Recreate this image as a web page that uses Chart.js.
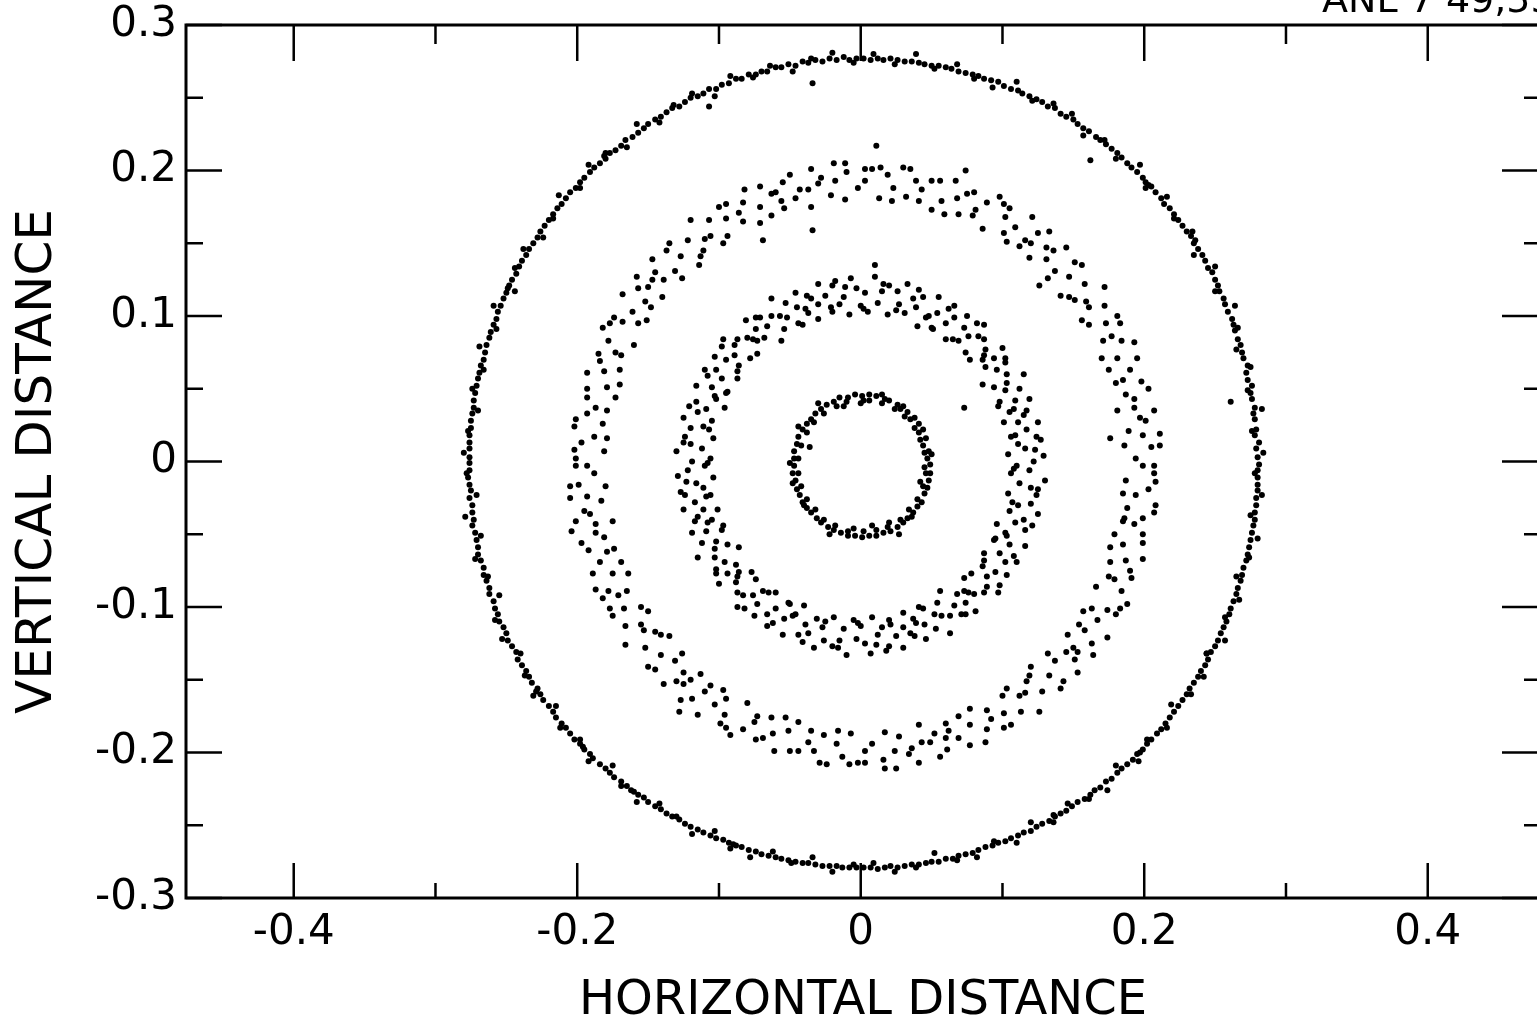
<!DOCTYPE html>
<html>
<head>
<meta charset="utf-8">
<title>Ring scatter</title>
<script src="https://cdn.jsdelivr.net/npm/chart.js@4.4.1/dist/chart.umd.min.js"></script>
<style>
  html, body { margin: 0; padding: 0; overflow: hidden; background: #fff; }
  #wrap { position: absolute; left: 0; top: 0; width: 1560px; height: 1026px; }
</style>
</head>
<body>
<div id="wrap"><canvas id="chart" width="1560" height="1026"></canvas></div>
<script>
// Axis ticks (values in distance units) and their printed labels
const xTickValues = [-0.4, -0.3, -0.2, -0.1, 0, 0.1, 0.2, 0.3, 0.4];
const xTickLabels = ['-0.4', '', '-0.2', '', '0', '', '0.2', '', '0.4'];
const yTickValues = [-0.3, -0.2, -0.1, 0, 0.1, 0.2, 0.3];
const yTickLabels = ['-0.3', '-0.2', '-0.1', '0', '0.1', '0.2', '0.3'];
const yMinorTicks = [-0.25, -0.15, -0.05, 0.05, 0.15, 0.25];
const plateLabel = 'ANL 7 49,55';

// Particle positions, [x, y] in thousandths of a unit, one list per ring
const ringOuter = [
  [281,-2],[280,3],[279,9],[281,13],[278,18],[279,22],[278,29],[277,33],[278,37],[276,43],[275,47],[276,52],[273,56],[272,61],[273,66],[270,71],[269,75],[268,80],[266,84],[264,90],
  [263,94],[262,98],[259,103],[257,108],[256,112],[253,117],[252,121],[250,125],[248,130],[245,133],[243,138],[241,142],[238,146],[235,150],[233,155],[230,158],[227,162],[224,166],[221,170],[218,174],
  [214,177],[212,181],[208,185],[205,189],[201,192],[199,195],[195,199],[191,202],[188,205],[184,209],[181,212],[177,215],[173,218],[169,221],[166,223],[161,227],[157,229],[153,232],[150,235],[145,237],
  [141,239],[137,243],[132,244],[128,247],[124,249],[119,251],[114,253],[111,255],[106,256],[101,258],[97,261],[92,262],[87,263],[83,265],[79,266],[74,267],[69,268],[64,270],[60,271],[55,272],
  [50,272],[45,273],[41,274],[36,275],[31,275],[26,276],[21,277],[16,276],[12,277],[7,276],[162,207],[261,41],[236,152],[203,190],
  [284,6],[276,21],[283,36],[273,49],[275,65],[265,77],[266,92],[264,107],[250,117],[250,134],[235,142],[234,158],[221,167],[216,182],[201,188],[197,204],[180,208],[172,221],[157,224],[149,239],
  [136,246],[121,248],[110,261],[93,257],[80,263],[68,273],[52,270],[39,280],[24,273],[9,280],
  [2,277],[-3,277],[-8,276],[-12,278],[-17,276],[-22,277],[-27,275],[-32,276],[-37,274],[-41,275],[-46,272],[-51,273],[-56,271],[-60,271],[-66,268],[-70,268],[-74,266],[-79,266],[-84,263],[-88,263],
  [-93,260],[-98,259],[-102,256],[-107,256],[-111,253],[-115,251],[-120,250],[-124,247],[-128,244],[-133,243],[-137,240],[-141,237],[-145,235],[-150,232],[-153,229],[-157,226],[-161,223],[-166,221],[-169,217],[-173,214],
  [-177,212],[-180,208],[-184,205],[-188,202],[-191,199],[-195,195],[-198,192],[-201,188],[-205,185],[-208,181],[-211,177],[-214,174],[-217,170],[-220,166],[-223,162],[-226,158],[-228,154],[-231,150],[-234,146],[-236,142],
  [-239,138],[-241,134],[-243,129],[-246,125],[-248,121],[-250,116],[-252,112],[-254,107],[-256,103],[-257,98],[-259,94],[-261,89],[-262,85],[-264,80],[-265,75],[-266,70],[-268,66],[-269,61],[-270,57],[-271,52],
  [-272,47],[-273,42],[-273,37],[-274,33],[-275,28],[-275,23],[-276,18],[-276,13],[-276,9],[-276,3],[-34,260],[-107,244],[-181,210],[-249,119],
  [-5,274],[-20,281],[-35,277],[-48,268],[-64,272],[-76,264],[-92,265],[-103,251],[-119,253],[-132,245],[-142,233],[-158,232],[-165,216],[-180,212],[-192,204],[-198,188],[-213,183],[-217,167],[-224,154],[-238,146],
  [-244,133],[-244,117],[-259,107],[-257,91],[-269,79],[-266,63],[-274,50],[-270,35],[-277,21],[-280,6],
  [-276,-1],[-276,-6],[-277,-11],[-276,-16],[-275,-20],[-276,-25],[-274,-30],[-274,-35],[-273,-40],[-274,-44],[-272,-49],[-271,-54],[-270,-59],[-270,-64],[-268,-68],[-266,-73],[-266,-78],[-264,-82],[-262,-87],[-262,-91],
  [-259,-96],[-258,-101],[-256,-105],[-255,-110],[-252,-114],[-250,-118],[-249,-123],[-246,-127],[-243,-131],[-242,-136],[-239,-140],[-236,-144],[-234,-148],[-232,-152],[-228,-156],[-226,-160],[-224,-164],[-220,-168],[-217,-172],[-215,-176],
  [-211,-180],[-208,-183],[-205,-187],[-202,-191],[-198,-194],[-195,-198],[-191,-201],[-189,-204],[-184,-208],[-180,-211],[-177,-214],[-174,-217],[-169,-220],[-165,-223],[-162,-226],[-157,-229],[-153,-231],[-150,-234],[-145,-237],[-141,-239],
  [-137,-242],[-133,-244],[-128,-246],[-124,-249],[-120,-251],[-115,-253],[-111,-255],[-106,-257],[-102,-259],[-97,-260],[-93,-262],[-88,-264],[-84,-265],[-79,-267],[-74,-268],[-70,-270],[-65,-271],[-60,-272],[-56,-273],[-51,-274],
  [-46,-275],[-41,-276],[-37,-276],[-32,-277],[-27,-278],[-22,-278],[-17,-278],[-13,-279],[-8,-279],[-3,-279],[-229,-158],[-196,-196],[-160,-227],[-90,-263],
  [-278,-8],[-271,-23],[-279,-38],[-268,-51],[-272,-67],[-263,-79],[-255,-92],[-258,-109],[-253,-122],[-240,-132],[-237,-147],[-231,-161],[-215,-168],[-212,-183],[-198,-191],[-192,-206],[-175,-209],[-169,-223],[-158,-234],[-142,-235],
  [-130,-244],[-119,-256],[-103,-254],[-92,-266],[-78,-272],[-62,-268],[-49,-276],[-34,-272],[-20,-282],[-5,-277],
  [2,-279],[7,-279],[12,-280],[17,-279],[21,-278],[26,-279],[31,-278],[36,-277],[41,-277],[46,-276],[50,-275],[55,-275],[60,-273],[65,-273],[69,-271],[74,-270],[79,-269],[83,-267],[88,-265],[93,-264],
  [97,-262],[102,-261],[106,-259],[111,-257],[115,-255],[120,-254],[124,-251],[128,-249],[133,-247],[137,-244],[141,-242],[145,-240],[149,-237],[153,-234],[158,-232],[162,-229],[165,-226],[169,-224],[173,-220],[177,-218],
  [181,-214],[184,-211],[188,-208],[192,-205],[195,-201],[199,-198],[202,-194],[205,-191],[209,-187],[212,-184],[215,-180],[218,-176],[221,-172],[224,-168],[227,-164],[230,-160],[232,-156],[235,-152],[238,-148],[240,-144],
  [243,-140],[245,-136],[247,-131],[250,-127],[252,-123],[254,-118],[256,-114],[258,-110],[260,-105],[261,-101],[263,-96],[265,-91],[266,-87],[268,-82],[269,-78],[270,-73],[272,-68],[273,-64],[274,-59],[275,-54],
  [276,-49],[277,-44],[278,-40],[278,-35],[279,-30],[279,-25],[280,-20],[280,-16],[280,-11],[280,-6],[244,-132],[197,-200],[136,-243],
  [9,-276],[24,-282],[39,-279],[52,-269],[68,-274],[82,-272],[94,-261],[110,-262],[120,-248],[136,-248],[146,-235],[161,-232],[174,-226],[180,-209],[196,-206],[202,-191],[216,-183],[219,-167],[233,-160],[242,-148],
  [244,-132],[257,-123],[257,-107],[267,-95],[265,-79],[274,-66],[280,-53],[275,-37],[283,-23],[278,-8]
];

const ringSecond = [
  [207,-3],[199,-3],[194,2],[211,11],[205,10],[186,11],[199,18],[211,19],[189,21],[201,28],[197,30],[207,35],[181,35],[193,37],[193,43],[187,46],[203,50],[198,55],[180,54],[185,56],
  [190,63],[195,71],[175,63],[181,71],[170,71],[193,82],[184,83],[171,83],[177,86],[183,95],[173,95],[181,100],[161,94],[172,107],[156,97],[161,106],[172,120],[159,110],[151,111],[158,122],
  [147,113],[141,114],[147,127],[156,135],[151,137],[137,131],[132,126],[145,147],[131,139],[136,145],[131,147],[119,140],[133,158],[125,157],[112,148],[116,152],[121,168],[109,161],[103,151],[101,157],
  [102,168],[105,174],[101,177],[86,160],[98,182],[89,178],[81,173],[79,169],[80,185],[69,170],[75,184],[68,181],[67,193],[59,170],[57,179],[50,173],[56,193],[50,193],[43,187],[41,179],
  [39,193],[32,182],[35,201],[30,202],[23,188],[22,179],[19,197],[13,181],[14,202],[8,201],[11,217],[74,200],[126,121],[120,150],[176,16],
  [3,201],[3,193],[-2,188],[-11,205],[-10,199],[-11,180],[-18,193],[-19,205],[-21,183],[-28,195],[-30,191],[-35,201],[-35,175],[-37,187],[-43,187],[-46,181],[-50,197],[-55,192],[-54,174],[-56,179],
  [-63,184],[-71,189],[-63,169],[-71,175],[-71,164],[-82,187],[-83,178],[-83,165],[-86,171],[-95,177],[-95,167],[-100,175],[-94,155],[-107,166],[-97,150],[-106,155],[-120,166],[-110,153],[-111,145],[-122,152],
  [-113,141],[-114,135],[-127,141],[-135,150],[-137,145],[-131,131],[-126,126],[-147,139],[-139,125],[-145,130],[-147,125],[-140,113],[-158,127],[-157,119],[-148,106],[-152,110],[-168,115],[-161,103],[-151,97],[-157,95],
  [-168,96],[-174,99],[-177,95],[-160,80],[-182,92],[-178,83],[-173,75],[-169,73],[-185,74],[-170,63],[-184,69],[-181,62],[-193,61],[-170,53],[-179,51],[-173,44],[-193,50],[-193,44],[-187,37],[-179,35],
  [-193,33],[-182,26],[-201,29],[-202,24],[-188,17],[-179,16],[-197,13],[-181,7],[-202,8],[-201,2],[-60,185],[-150,120],
  [-201,-3],[-193,-3],[-188,-8],[-205,-17],[-199,-16],[-180,-17],[-193,-24],[-205,-25],[-183,-27],[-195,-34],[-191,-36],[-201,-41],[-175,-41],[-187,-43],[-187,-49],[-181,-52],[-197,-56],[-192,-61],[-174,-60],[-179,-62],
  [-184,-69],[-189,-77],[-169,-69],[-175,-77],[-164,-77],[-187,-88],[-178,-89],[-165,-89],[-171,-92],[-177,-101],[-167,-101],[-175,-106],[-155,-100],[-166,-113],[-150,-103],[-155,-112],[-166,-126],[-153,-116],[-145,-117],[-152,-128],
  [-141,-119],[-135,-120],[-141,-133],[-150,-141],[-145,-143],[-131,-137],[-126,-132],[-139,-153],[-125,-145],[-130,-151],[-125,-153],[-113,-146],[-127,-164],[-119,-163],[-106,-154],[-110,-158],[-115,-174],[-103,-167],[-97,-157],[-95,-163],
  [-96,-174],[-99,-180],[-95,-183],[-80,-166],[-92,-188],[-83,-184],[-75,-179],[-73,-175],[-74,-191],[-63,-176],[-69,-190],[-62,-187],[-61,-199],[-53,-176],[-51,-185],[-44,-179],[-50,-199],[-44,-199],[-37,-193],[-35,-185],
  [-33,-199],[-26,-188],[-29,-207],[-24,-208],[-17,-194],[-16,-185],[-13,-203],[-7,-187],[-8,-208],[-2,-207],[-128,-172],[-204,-48],[-182,-94],[-120,-150],
  [3,-207],[3,-199],[8,-194],[17,-211],[16,-205],[17,-186],[24,-199],[25,-211],[27,-189],[34,-201],[36,-197],[41,-207],[41,-181],[43,-193],[49,-193],[52,-187],[56,-203],[61,-198],[60,-180],[62,-185],
  [69,-190],[77,-195],[69,-175],[77,-181],[77,-170],[88,-193],[89,-184],[89,-171],[92,-177],[101,-183],[101,-173],[106,-181],[100,-161],[113,-172],[103,-156],[112,-161],[126,-172],[116,-159],[117,-151],[128,-158],
  [119,-147],[120,-141],[133,-147],[141,-156],[143,-151],[137,-137],[132,-132],[153,-145],[145,-131],[151,-136],[153,-131],[146,-119],[164,-133],[163,-125],[154,-112],[158,-116],[174,-121],[167,-109],[157,-103],[163,-101],
  [174,-102],[180,-105],[183,-101],[166,-86],[188,-98],[184,-89],[179,-81],[175,-79],[191,-80],[176,-69],[190,-75],[187,-68],[199,-67],[176,-59],[185,-57],[179,-50],[199,-56],[199,-50],[193,-43],[185,-41],
  [199,-39],[188,-32],[207,-35],[208,-30],[194,-23],[185,-22],[203,-19],[187,-13],[208,-14],[207,-8],[186,-39],[150,-128],[60,-190]
];

const ringThird = [
  [110,-3],[122,0],[129,4],[104,5],[116,9],[111,12],[124,17],[106,17],[117,22],[125,27],[111,27],[101,27],[117,35],[105,34],[119,43],[109,42],[98,41],[112,50],[102,49],[115,60],
  [94,51],[103,60],[86,53],[96,63],[102,71],[88,65],[100,78],[86,70],[88,77],[77,70],[87,84],[74,75],[87,94],[76,86],[69,83],[73,92],[75,100],[60,84],[66,99],[60,95],
  [62,105],[51,91],[54,102],[55,113],[46,99],[40,93],[44,113],[39,106],[37,112],[31,102],[33,122],[27,108],[26,117],[19,101],[20,121],[16,122],[12,109],[10,127],[5,103],[3,116],
  [123,8],[109,18],[115,32],[97,38],[103,54],[102,68],[87,73],[83,86],[65,84],[66,107],[48,100],[41,118],[25,104],[15,117],[2,105],[94,71],[108,36],[50,92],[127,15],[82,95],
  [0,107],[-3,119],[-7,126],[-8,101],[-12,113],[-15,108],[-20,121],[-20,103],[-25,114],[-30,122],[-30,108],[-30,98],[-38,114],[-37,102],[-46,116],[-45,106],[-44,95],[-53,109],[-52,99],[-63,112],
  [-54,91],[-63,100],[-56,83],[-66,93],[-74,99],[-68,85],[-81,97],[-73,83],[-80,85],[-73,74],[-87,84],[-78,71],[-97,84],[-89,73],[-86,66],[-95,70],[-103,72],[-87,57],[-102,63],[-98,57],
  [-108,59],[-94,48],[-105,51],[-116,52],[-102,43],[-96,37],[-116,41],[-109,36],[-115,34],[-105,28],[-125,30],[-111,24],[-120,23],[-104,16],[-124,17],[-125,13],[-112,9],[-130,7],[-106,2],[-119,0],
  [-11,120],[-21,106],[-35,112],[-41,94],[-57,100],[-71,99],[-76,84],[-89,80],[-87,62],[-110,63],[-103,45],[-121,38],[-107,22],[-120,12],[-108,-1],[-74,91],[-39,105],[-95,47],[-18,124],[-98,79],
  [-110,-3],[-122,-6],[-129,-10],[-104,-11],[-116,-15],[-111,-18],[-124,-23],[-106,-23],[-117,-28],[-125,-33],[-111,-33],[-101,-33],[-117,-41],[-105,-40],[-119,-49],[-109,-48],[-98,-47],[-112,-56],[-102,-55],[-115,-66],
  [-94,-57],[-103,-66],[-86,-59],[-96,-69],[-102,-77],[-88,-71],[-100,-84],[-86,-76],[-88,-83],[-77,-76],[-87,-90],[-74,-81],[-87,-100],[-76,-92],[-69,-89],[-73,-98],[-75,-106],[-60,-90],[-66,-105],[-60,-101],
  [-62,-111],[-51,-97],[-54,-108],[-55,-119],[-46,-105],[-40,-99],[-44,-119],[-39,-112],[-37,-118],[-31,-108],[-33,-128],[-27,-114],[-26,-123],[-19,-107],[-20,-127],[-16,-128],[-12,-115],[-10,-133],[-5,-109],[-3,-122],
  [-123,-14],[-109,-24],[-115,-38],[-97,-44],[-103,-60],[-102,-74],[-87,-79],[-83,-92],[-65,-90],[-66,-113],[-48,-106],[-41,-124],[-25,-110],[-15,-123],[-2,-111],[-94,-77],[-108,-42],[-50,-98],[-127,-21],[-82,-101],
  [0,-113],[3,-125],[7,-132],[8,-107],[12,-119],[15,-114],[20,-127],[20,-109],[25,-120],[30,-128],[30,-114],[30,-104],[38,-120],[37,-108],[46,-122],[45,-112],[44,-101],[53,-115],[52,-105],[63,-118],
  [54,-97],[63,-106],[56,-89],[66,-99],[74,-105],[68,-91],[81,-103],[73,-89],[80,-91],[73,-80],[87,-90],[78,-77],[97,-90],[89,-79],[86,-72],[95,-76],[103,-78],[87,-63],[102,-69],[98,-63],
  [108,-65],[94,-54],[105,-57],[116,-58],[102,-49],[96,-43],[116,-47],[109,-42],[115,-40],[105,-34],[125,-36],[111,-30],[120,-29],[104,-22],[124,-23],[125,-19],[112,-15],[130,-13],[106,-8],[119,-6],
  [11,-126],[21,-112],[35,-118],[41,-100],[57,-106],[71,-105],[76,-90],[89,-86],[87,-68],[110,-69],[103,-51],[121,-44],[107,-28],[120,-18],[108,-5],[74,-97],[39,-111],[95,-53],[18,-130],[98,-85],
  [10,135],[-34,159],[-69,152],[73,37]
];

const ringInner = [
  [49,-2],[45,-4],[47,2],[48,7],[45,6],[44,11],[46,16],[42,15],[41,20],[41,26],[38,23],[35,29],[33,34],[31,31],[28,36],[26,39],[24,36],[20,42],[17,43],[15,40],
  [11,45],[6,46],[6,42],[38,30],[44,22],[50,5],[30,38],[15,46],
  [1,45],[2,42],[-4,46],[-9,44],[-10,41],[-15,44],[-19,41],[-17,38],[-24,39],[-28,36],[-26,33],[-32,33],[-35,29],[-33,27],[-38,26],[-41,22],[-38,20],[-44,17],[-45,12],[-42,11],[-47,7],[-47,2],
  [-44,2],[-30,40],[-12,38],[-36,10],[-44,24],[0,40],
  [-47,-3],[-48,-8],[-44,-8],[-46,-13],[-45,-19],[-42,-17],[-43,-23],[-41,-28],[-38,-26],[-38,-32],[-35,-35],[-32,-33],[-31,-39],[-28,-42],[-26,-40],[-23,-45],[-19,-47],[-18,-44],[-14,-49],[-9,-51],
  [-9,-48],[-4,-51],[-48,-15],[-40,-30],[-50,-1],[-22,-50],[-5,-46],
  [1,-52],[2,-48],[6,-51],[11,-51],[11,-47],[16,-49],[21,-48],[19,-45],[26,-45],[30,-42],[28,-40],[33,-39],[37,-35],[34,-33],[40,-31],[43,-28],[40,-26],[45,-22],[47,-18],[44,-17],
  [48,-13],[49,-8],[46,-8],[20,-42],[8,-44],[36,-38],[42,-14],[27,-50]
];

const toPoints = list => list.map(([x, y]) => ({ x: x / 1000, y: y / 1000 }));

const FONT = "'DejaVu Sans', 'Liberation Sans', sans-serif";

// Closed frame with inward tick marks on all four sides, plus the plate number
const frameTicks = {
  id: 'frameTicks',
  afterDraw(chart) {
    const { ctx, chartArea: a, scales } = chart;
    const xs = scales.x, ys = scales.y;
    ctx.save();
    ctx.strokeStyle = '#000';
    ctx.lineCap = 'butt';
    ctx.lineWidth = 3;
    ctx.strokeRect(a.left, a.top, a.right - a.left, a.bottom - a.top);
    ctx.lineWidth = 2.5;
    ctx.beginPath();
    xTickValues.forEach((v, i) => {
      const px = xs.getPixelForValue(v);
      const major = xTickLabels[i] !== '';
      ctx.moveTo(px, a.bottom);
      ctx.lineTo(px, a.bottom - (major ? 35 : 15));
      ctx.moveTo(px, a.top);
      ctx.lineTo(px, a.top + (major ? 36 : 19));
    });
    yTickValues.forEach(v => {
      const py = ys.getPixelForValue(v);
      ctx.moveTo(a.left, py);
      ctx.lineTo(a.left + 36, py);
      ctx.moveTo(a.right, py);
      ctx.lineTo(a.right - 38, py);
    });
    yMinorTicks.forEach(v => {
      const py = ys.getPixelForValue(v);
      ctx.moveTo(a.left, py);
      ctx.lineTo(a.left + 17, py);
      ctx.moveTo(a.right, py);
      ctx.lineTo(a.right - 16, py);
    });
    ctx.stroke();
    ctx.fillStyle = '#000';
    ctx.font = '38px ' + FONT;
    ctx.textAlign = 'left';
    ctx.textBaseline = 'alphabetic';
    ctx.fillText(plateLabel, 1322, 12);
    ctx.restore();
  }
};

const dotStyle = {
  showLine: false,
  pointRadius: 3,
  pointHoverRadius: 3,
  pointBackgroundColor: '#000',
  pointBorderWidth: 0,
  backgroundColor: '#000',
  borderColor: '#000'
};

new Chart(document.getElementById('chart'), {
  type: 'scatter',
  data: {
    datasets: [
      { label: 'outer', data: toPoints(ringOuter), ...dotStyle },
      { label: 'second', data: toPoints(ringSecond), ...dotStyle },
      { label: 'third', data: toPoints(ringThird), ...dotStyle },
      { label: 'inner', data: toPoints(ringInner), ...dotStyle }
    ]
  },
  options: {
    responsive: false,
    devicePixelRatio: 1,
    animation: false,
    events: [],
    layout: { padding: { top: 25, right: 20, left: 0, bottom: 0 } },
    plugins: { legend: { display: false }, tooltip: { enabled: false } },
    scales: {
      x: {
        type: 'linear',
        position: 'bottom',
        min: -0.476,
        max: 0.4792,
        afterBuildTicks: s => { s.ticks = xTickValues.map(v => ({ value: v })); },
        afterFit: s => { s.height = 128; s.paddingLeft = 0; s.paddingRight = 0; },
        ticks: {
          autoSkip: false,
          maxRotation: 0,
          padding: 10,
          color: '#000',
          font: { family: FONT, size: 42 },
          callback: (v, i) => xTickLabels[i]
        },
        grid: { display: false, drawTicks: false },
        border: { display: false },
        title: {
          display: true,
          text: 'HORIZONTAL DISTANCE',
          color: '#000',
          font: { family: FONT, size: 48, lineHeight: 1 },
          padding: { top: 0, bottom: 0 }
        }
      },
      y: {
        type: 'linear',
        position: 'left',
        min: -0.3,
        max: 0.3,
        afterBuildTicks: s => { s.ticks = yTickValues.map(v => ({ value: v })); },
        afterFit: s => { s.width = 186; s.paddingTop = 0; s.paddingBottom = 0; },
        ticks: {
          autoSkip: false,
          padding: 9,
          color: '#000',
          font: { family: FONT, size: 42 },
          callback: (v, i) => yTickLabels[i]
        },
        grid: { display: false, drawTicks: false },
        border: { display: false },
        title: {
          display: true,
          text: 'VERTICAL DISTANCE',
          color: '#000',
          font: { family: FONT, size: 50, lineHeight: 1 },
          padding: { top: 13, bottom: 0 }
        }
      }
    }
  },
  plugins: [frameTicks]
});
</script>
</body>
</html>
